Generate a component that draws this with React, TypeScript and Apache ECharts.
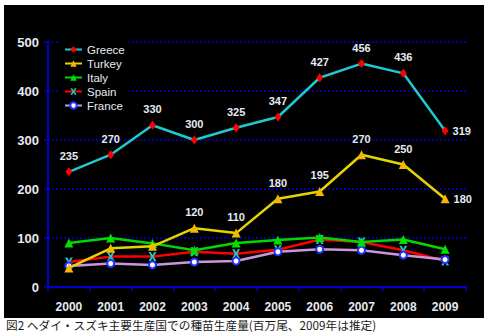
import React, { useEffect, useRef } from "react";
import * as echarts from "echarts";

const years = ["2000", "2001", "2002", "2003", "2004", "2005", "2006", "2007", "2008", "2009"];
const greece = [235, 270, 330, 300, 325, 347, 427, 456, 436, 319];
const turkey = [39, 79, 83, 120, 110, 180, 195, 270, 250, 180];
const italy = [90, 100, 89, 75, 90, 96, 101, 92, 97, 77];
const spain = [51, 62, 62, 72, 68, 76, 97, 92, 75, 53];
const france = [43, 48, 45, 51, 53, 72, 77, 75, 65, 56];
const caption = "図2 ヘダイ・スズキ主要生産国での種苗生産量(百万尾、2009年は推定)";

const FONT = '"Liberation Sans", Arial, sans-serif';
const TXT = "#e6eaf2";
const XPATH = "path://M0,0L3,0L5,3.5L7,0L10,0L6.5,5L10,10L7,10L5,6.5L3,10L0,10L3.5,5Z";

function labelled(vals: number[], firstLabelled: number) {
  return vals.map((v, i) => {
    if (i < firstLabelled) return { value: v, label: { show: false } };
    if (i === vals.length - 1) return { value: v, label: { position: "right", distance: 4 } };
    return v;
  });
}

export default function App() {
  const ref = useRef<HTMLDivElement>(null);
  useEffect(() => {
    if (!ref.current) return;
    const chart = echarts.init(ref.current, null, { renderer: "svg" });
    const dataLabel = {
      show: true,
      position: "top",
      distance: 6,
      color: TXT,
      fontFamily: FONT,
      fontWeight: "bold",
      fontSize: 11,
    };
    chart.setOption({
      animation: false,
      backgroundColor: "#ffffff",
      graphic: [
        { type: "rect", shape: { x: 4, y: 5, width: 480, height: 313 }, style: { fill: "#000000" }, z: -10, silent: true },
        {
          type: "text",
          x: 6,
          y: 319,
          style: { text: caption, fill: "#1a1a1a", fontSize: 11.7, fontFamily: '"Noto Sans CJK JP", sans-serif' },
          z: 10,
        },
      ],
      grid: { left: 48, right: 22, top: 42, bottom: 49 },
      legend: {
        orient: "vertical",
        left: 60,
        top: 40,
        padding: [3, 4, 3, 4],
        itemGap: 1,
        itemWidth: 17,
        itemHeight: 8,
        backgroundColor: "#000000",
        textStyle: { color: TXT, fontFamily: FONT, fontSize: 11.5, lineHeight: 13 },
        data: ["Greece", "Turkey", "Italy", "Spain", "France"],
      },
      xAxis: {
        type: "category",
        data: years,
        boundaryGap: true,
        axisLine: { lineStyle: { color: "#0000d0", width: 2 } },
        axisTick: { show: true, length: 4, inside: false, lineStyle: { color: "#0000d0", width: 1.5 } },
        axisLabel: { color: TXT, fontFamily: FONT, fontWeight: "bold", fontSize: 12, margin: 14 },
        splitLine: { show: false },
      },
      yAxis: {
        type: "value",
        min: 0,
        max: 500,
        interval: 100,
        axisLine: { show: true, lineStyle: { color: "#0000d0", width: 2 } },
        axisTick: { show: true, length: 4, lineStyle: { color: "#0000d0", width: 1.5 } },
        axisLabel: { color: TXT, fontFamily: FONT, fontWeight: "bold", fontSize: 13, margin: 9 },
        splitLine: { show: true, lineStyle: { color: "#0000e0", type: [2, 2], width: 1.5 } },
      },
      series: [
        {
          name: "Spain",
          type: "line",
          data: spain,
          symbol: XPATH,
          symbolSize: [8, 9],
          lineStyle: { color: "#ff0000", width: 2.5 },
          itemStyle: { color: "#20c8c8" },
          z: 2,
        },
        {
          name: "France",
          type: "line",
          data: france,
          symbol: "circle",
          symbolSize: 7,
          lineStyle: { color: "#c898dc", width: 2.5 },
          itemStyle: { color: "#ffffff", borderColor: "#2030ff", borderWidth: 2 },
          z: 2,
        },
        {
          name: "Italy",
          type: "line",
          data: italy,
          symbol: "triangle",
          symbolSize: 9,
          lineStyle: { color: "#00d800", width: 2.5 },
          itemStyle: { color: "#00e000" },
          z: 3,
        },
        {
          name: "Turkey",
          type: "line",
          data: labelled(turkey, 3),
          symbol: "triangle",
          symbolSize: 9,
          lineStyle: { color: "#e6d400", width: 2.5 },
          itemStyle: { color: "#f4b800" },
          label: dataLabel,
          z: 4,
        },
        {
          name: "Greece",
          type: "line",
          data: labelled(greece, 0),
          symbol: "diamond",
          symbolSize: [7, 9],
          lineStyle: { color: "#20c8d0", width: 2.5 },
          itemStyle: { color: "#ff0000" },
          label: dataLabel,
          z: 5,
        },
      ],
    });
    return () => chart.dispose();
  }, []);
  return (
    <div
      ref={ref}
      style={{ position: "fixed", left: 0, top: 0, width: 488, height: 336 }}
    />
  );
}
